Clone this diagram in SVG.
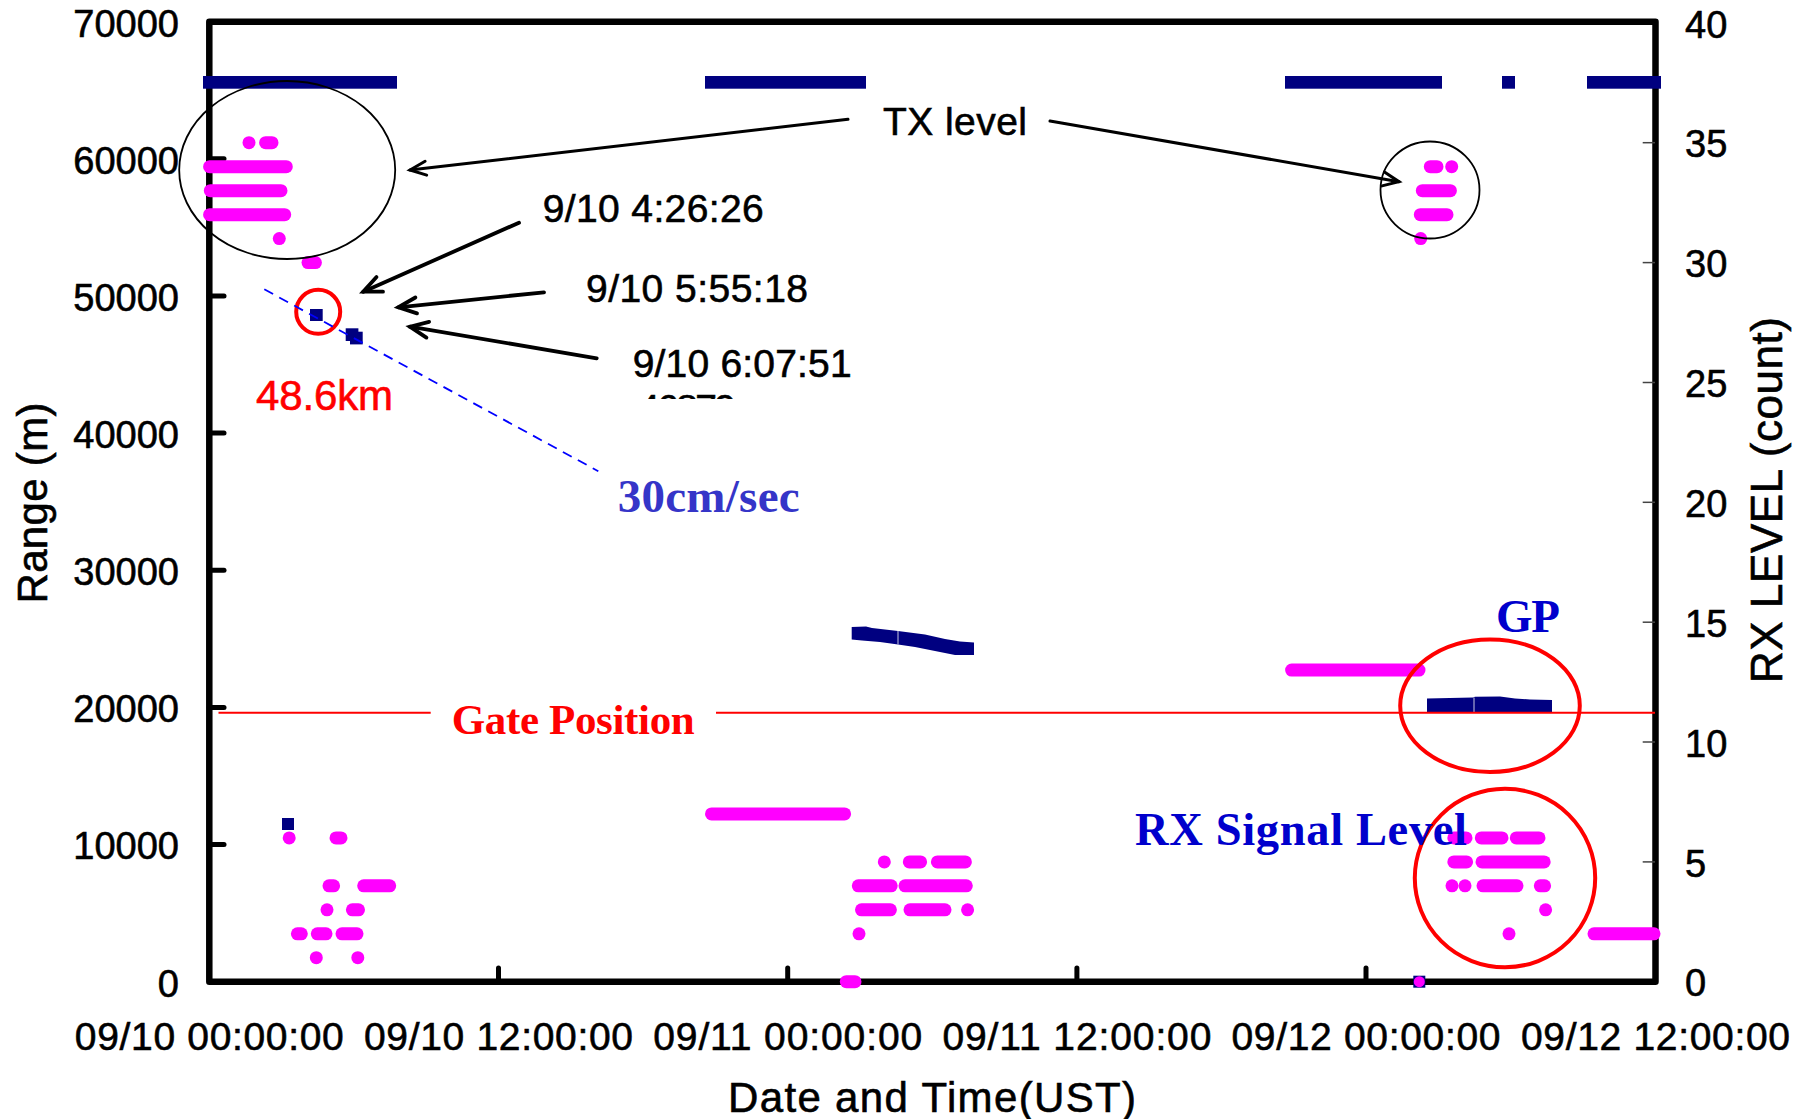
<svg xmlns="http://www.w3.org/2000/svg" width="1803" height="1119" viewBox="0 0 1803 1119">
<style>
.t{font-family:"Liberation Sans",Arial,sans-serif;fill:#000;stroke:#000;stroke-width:0.6}
.tk{font-size:38px}
.xl{font-size:39px;text-anchor:middle}
.ann{font-size:39px}
.ser{font-family:"Liberation Serif","Times New Roman",serif;font-weight:bold}
.m{stroke:#FF00FF;stroke-width:13;stroke-linecap:round;fill:none}
.md{fill:#FF00FF}
.nv{fill:#000080}
.ytk{stroke:#000;stroke-width:5;stroke-linecap:round}
.rtk{stroke:#444;stroke-width:1.5}
.arr{stroke:#000;fill:none;stroke-linecap:round}
</style>
<defs>
<marker id="ah3" markerUnits="userSpaceOnUse" viewBox="0 0 20 16" markerWidth="20" markerHeight="16" refX="17" refY="8" orient="auto" overflow="visible">
<path d="M1,1 L17,8 L1,15" fill="none" stroke="#000" stroke-width="3" stroke-linecap="round" stroke-linejoin="miter"/>
</marker>
<marker id="ah4" markerUnits="userSpaceOnUse" viewBox="0 0 22 18" markerWidth="22" markerHeight="18" refX="19" refY="9" orient="auto" overflow="visible">
<path d="M1,1 L19,9 L1,17" fill="none" stroke="#000" stroke-width="3.8" stroke-linecap="round" stroke-linejoin="miter"/>
</marker>
<clipPath id="cut"><rect x="600" y="380" width="200" height="19"/></clipPath>
</defs>
<rect width="1803" height="1119" fill="#fff"/>

<g id="axes">
<rect x="209.3" y="21.7" width="1446.2" height="960" fill="none" stroke="#000" stroke-width="6.5" stroke-linejoin="round"/>
<g id="left-ticks">
<line class="ytk" x1="209.3" y1="158.8" x2="224" y2="158.8"/>
<line class="ytk" x1="209.3" y1="296" x2="224" y2="296"/>
<line class="ytk" x1="209.3" y1="433.1" x2="224" y2="433.1"/>
<line class="ytk" x1="209.3" y1="570.3" x2="224" y2="570.3"/>
<line class="ytk" x1="209.3" y1="707.4" x2="224" y2="707.4"/>
<line class="ytk" x1="209.3" y1="844.6" x2="224" y2="844.6"/>
</g>
<g id="bottom-ticks">
<line class="ytk" x1="498.5" y1="968" x2="498.5" y2="981.7"/>
<line class="ytk" x1="787.7" y1="968" x2="787.7" y2="981.7"/>
<line class="ytk" x1="1076.9" y1="968" x2="1076.9" y2="981.7"/>
<line class="ytk" x1="1366" y1="968" x2="1366" y2="981.7"/>
</g>
<g id="right-ticks">
<line class="rtk" x1="1642.7" y1="142.7" x2="1655" y2="142.7"/>
<line class="rtk" x1="1642.7" y1="262.6" x2="1655" y2="262.6"/>
<line class="rtk" x1="1642.7" y1="382.5" x2="1655" y2="382.5"/>
<line class="rtk" x1="1642.7" y1="502.3" x2="1655" y2="502.3"/>
<line class="rtk" x1="1642.7" y1="622.2" x2="1655" y2="622.2"/>
<line class="rtk" x1="1642.7" y1="742" x2="1655" y2="742"/>
<line class="rtk" x1="1642.7" y1="861.9" x2="1655" y2="861.9"/>
</g>
<g id="left-labels" class="t tk" text-anchor="end">
<text x="179" y="36.5">70000</text>
<text x="179" y="173.6">60000</text>
<text x="179" y="310.8">50000</text>
<text x="179" y="447.9">40000</text>
<text x="179" y="585.1">30000</text>
<text x="179" y="722.2">20000</text>
<text x="179" y="859.4">10000</text>
<text x="179" y="996.5">0</text>
</g>
<g id="right-labels" class="t tk">
<text x="1685" y="37.6">40</text>
<text x="1685" y="157.4">35</text>
<text x="1685" y="277.3">30</text>
<text x="1685" y="397.2">25</text>
<text x="1685" y="517">20</text>
<text x="1685" y="636.9">15</text>
<text x="1685" y="756.7">10</text>
<text x="1685" y="876.6">5</text>
<text x="1685" y="996.4">0</text>
</g>
<g id="x-labels" class="t xl">
<text x="209.3" y="1050" textLength="269">09/10 00:00:00</text>
<text x="498.5" y="1050" textLength="269">09/10 12:00:00</text>
<text x="787.7" y="1050" textLength="269">09/11 00:00:00</text>
<text x="1076.9" y="1050" textLength="269">09/11 12:00:00</text>
<text x="1366" y="1050" textLength="269">09/12 00:00:00</text>
<text x="1655.5" y="1050" textLength="269">09/12 12:00:00</text>
</g>
<g id="axis-titles" class="t">
<text x="932" y="1111.7" font-size="42" text-anchor="middle" textLength="408">Date and Time(UST)</text>
<text transform="translate(47,503) rotate(-90)" font-size="42" text-anchor="middle" textLength="201">Range (m)</text>
<text transform="translate(1781.7,500) rotate(-90)" font-size="44" text-anchor="middle" textLength="366">RX LEVEL (count)</text>
</g>
</g>

<g id="tx-level-series">
<rect class="nv" x="203" y="76" width="194" height="12.7"/>
<rect class="nv" x="705" y="76" width="161" height="12.7"/>
<rect class="nv" x="1285" y="76" width="157" height="12.7"/>
<rect class="nv" x="1502" y="76" width="13" height="12.7"/>
<rect class="nv" x="1587" y="76" width="74" height="12.7"/>
</g>

<g id="range-series">
<rect class="nv" x="282" y="818" width="12" height="12"/>
<rect class="nv" x="310" y="309" width="12.7" height="12"/>
<rect class="nv" x="345.7" y="328.3" width="12.7" height="12.7"/>
<rect class="nv" x="350" y="331.7" width="12.7" height="12.7"/>
<path class="nv" d="M851.7,627 L866,626.5 L872,628 L898,631 L925,634.5 L945,639 L960,641.5 L974,642.5 L974,655 L955,655 L935,651 L915,647 L898,644.5 L880,642 L862,640.5 L851.7,639.5 Z"/>
<line x1="898" y1="631" x2="898" y2="644.5" stroke="#c8c8e0" stroke-width="1"/>
<path class="nv" d="M1427,698.5 L1473,697.5 L1475,696.7 L1500,696.5 L1515,698.5 L1530,699.5 L1552,700 L1552,712.5 L1427,712 Z"/>
<line x1="1474" y1="697.5" x2="1474" y2="712" stroke="#c8c8e0" stroke-width="1"/>
<rect x="1413.3" y="975.7" width="12" height="12" fill="#000080"/>
</g>

<g id="rx-level-series">
<circle class="md" cx="249" cy="142.7" r="6.5"/>
<line class="m" x1="265.6" y1="142.7" x2="272" y2="142.7"/>
<line class="m" x1="209.6" y1="166.7" x2="286.3" y2="166.7"/>
<line class="m" x1="210.3" y1="190.7" x2="281" y2="190.7"/>
<line class="m" x1="209.6" y1="214.7" x2="284.7" y2="214.7"/>
<circle class="md" cx="279.3" cy="238.6" r="6.5"/>
<line class="m" x1="308" y1="262.6" x2="315.4" y2="262.6"/>

<line class="m" x1="1430.3" y1="166.7" x2="1437" y2="166.7"/>
<circle class="md" cx="1451.7" cy="166.7" r="6.5"/>
<line class="m" x1="1422.3" y1="190.7" x2="1450.4" y2="190.7"/>
<line class="m" x1="1420.3" y1="214.7" x2="1447" y2="214.7"/>
<circle class="md" cx="1420.7" cy="238.6" r="6.5"/>

<circle class="md" cx="289.2" cy="837.9" r="6.5"/>
<line class="m" x1="336" y1="837.9" x2="341" y2="837.9"/>
<line class="m" x1="329" y1="885.8" x2="333.6" y2="885.8"/>
<line class="m" x1="363.7" y1="885.8" x2="389.7" y2="885.8"/>
<circle class="md" cx="327" cy="909.8" r="6.5"/>
<line class="m" x1="352.4" y1="909.8" x2="358.5" y2="909.8"/>
<line class="m" x1="297.4" y1="933.8" x2="301.3" y2="933.8"/>
<line class="m" x1="317.3" y1="933.8" x2="326" y2="933.8"/>
<line class="m" x1="342" y1="933.8" x2="357" y2="933.8"/>
<circle class="md" cx="316.3" cy="957.7" r="6.5"/>
<circle class="md" cx="357.8" cy="957.7" r="6.5"/>

<line class="m" x1="711.5" y1="813.9" x2="844.6" y2="813.9"/>
<circle class="md" cx="884.3" cy="861.9" r="6.5"/>
<line class="m" x1="909.3" y1="861.9" x2="920.6" y2="861.9"/>
<line class="m" x1="937.4" y1="861.9" x2="965.4" y2="861.9"/>
<line class="m" x1="858.3" y1="885.8" x2="891.2" y2="885.8"/>
<line class="m" x1="905" y1="885.8" x2="966.3" y2="885.8"/>
<line class="m" x1="861.5" y1="909.8" x2="890.4" y2="909.8"/>
<line class="m" x1="910" y1="909.8" x2="945" y2="909.8"/>
<circle class="md" cx="967.6" cy="909.8" r="6.5"/>
<circle class="md" cx="859" cy="933.8" r="6.5"/>
<line class="m" x1="846.3" y1="981.7" x2="855" y2="981.7"/>

<line class="m" x1="1291.6" y1="670.1" x2="1419" y2="670.1"/>
<line class="m" x1="1453.8" y1="837.9" x2="1466" y2="837.9"/>
<line class="m" x1="1481.3" y1="837.9" x2="1502" y2="837.9"/>
<line class="m" x1="1516.3" y1="837.9" x2="1539" y2="837.9"/>
<line class="m" x1="1453.8" y1="861.9" x2="1466.6" y2="861.9"/>
<line class="m" x1="1482" y1="861.9" x2="1544.2" y2="861.9"/>
<circle class="md" cx="1452" cy="885.8" r="6.5"/>
<circle class="md" cx="1465" cy="885.8" r="6.5"/>
<line class="m" x1="1483" y1="885.8" x2="1517" y2="885.8"/>
<line class="m" x1="1540.3" y1="885.8" x2="1544.6" y2="885.8"/>
<circle class="md" cx="1545.6" cy="909.8" r="6.5"/>
<circle class="md" cx="1509" cy="933.8" r="6.5"/>
<line class="m" x1="1594" y1="933.8" x2="1654" y2="933.8"/>
<circle class="md" cx="1419.3" cy="981.7" r="5.5"/>
</g>

<g id="gate-position">
<line x1="218.5" y1="712.7" x2="430.7" y2="712.7" stroke="#FF0000" stroke-width="2"/>
<line x1="716" y1="712.7" x2="1655" y2="712.7" stroke="#FF0000" stroke-width="2"/>
<text class="ser" x="451.7" y="734.3" font-size="43" fill="#FF0000" textLength="243">Gate Position</text>
</g>

<g id="highlights" fill="none">
<ellipse id="tx-circle-1" cx="287.2" cy="170" rx="108" ry="89" stroke="#000" stroke-width="1.8"/>
<ellipse id="tx-circle-2" cx="1430" cy="190" rx="49.5" ry="48.5" stroke="#000" stroke-width="1.8"/>
<circle id="range-circle" cx="318.2" cy="311.8" r="22" stroke="#FF0000" stroke-width="4"/>
<ellipse id="gp-ellipse" cx="1490" cy="705.7" rx="89.8" ry="66.3" stroke="#FF0000" stroke-width="4"/>
<ellipse id="rx-ellipse" cx="1505" cy="878" rx="90.2" ry="89.3" stroke="#FF0000" stroke-width="4"/>
</g>

<g id="connectors">
<line class="arr" x1="848" y1="119.3" x2="410" y2="170" stroke-width="3" marker-end="url(#ah3)"/>
<line class="arr" x1="1050" y1="121" x2="1399" y2="181.7" stroke-width="3" marker-end="url(#ah3)"/>
<line class="arr" x1="519" y1="222.7" x2="363.3" y2="291.7" stroke-width="3.8" marker-end="url(#ah4)"/>
<line class="arr" x1="544" y1="292.3" x2="398.3" y2="307.3" stroke-width="3.8" marker-end="url(#ah4)"/>
<line class="arr" x1="596.7" y1="358.3" x2="410" y2="326.7" stroke-width="3.8" marker-end="url(#ah4)"/>
<line id="trend-line" x1="264.3" y1="289.3" x2="598.3" y2="471.2" stroke="#0000FF" stroke-width="1.8" stroke-dasharray="10 7"/>
</g>

<g id="tx-label"><text class="t ann" x="883" y="135" textLength="144">TX level</text></g>
<g id="time-label-1"><text class="t ann" x="542.7" y="221.7" textLength="221">9/10 4:26:26</text></g>
<g id="time-label-2"><text class="t ann" x="586" y="301.7" textLength="222">9/10 5:55:18</text></g>
<g id="time-label-3"><text class="t ann" x="632.7" y="376.7" textLength="219">9/10 6:07:51</text>
<text class="t ann" x="638" y="421.5" textLength="98" clip-path="url(#cut)">46879</text></g>
<g id="km-label"><text class="t" x="256" y="410" font-size="42" style="fill:#FF0000;stroke:#FF0000" textLength="137">48.6km</text></g>
<g id="speed-label"><text class="ser" x="617.7" y="511.7" font-size="47" fill="#3535C8" textLength="182">30cm/sec</text></g>
<g id="gp-label"><text class="ser" x="1496" y="632.3" font-size="47" fill="#0000CC" textLength="64">GP</text></g>
<g id="rx-signal-label"><text class="ser" x="1135" y="845" font-size="46.5" fill="#0000CC" textLength="332">RX Signal Level</text></g>
</svg>
